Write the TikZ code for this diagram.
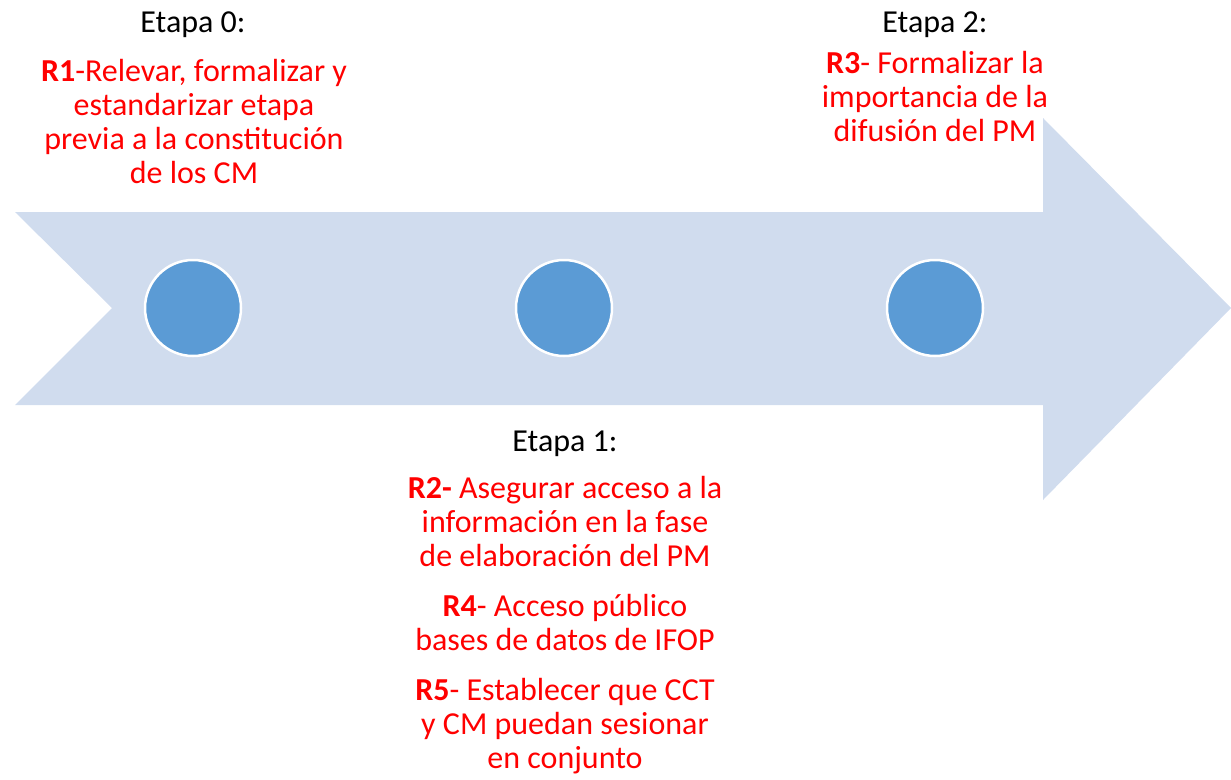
\documentclass[tikz,border=0pt]{standalone}
\usepackage{fontspec}
\setmainfont{Carlito}
\usepackage{tikz}
\usetikzlibrary{positioning}

\definecolor{arrowfill}{RGB}{208,220,238}
\definecolor{dotfill}{RGB}{91,155,213}
\definecolor{recred}{RGB}{255,0,0}

\tikzset{
  etapa/.style={anchor=base, inner sep=0pt, font=\fontsize{32}{34}\selectfont},
  recom/.style={anchor=north, inner sep=0pt, align=center, text=recred,
    font=\fontsize{32}{34}\selectfont},
  hito/.style={circle, fill=dotfill, draw=white, line width=2.5pt,
    minimum size=96pt, inner sep=0pt}
}

\begin{document}
\begin{tikzpicture}[x=1pt, y=-1pt]
    \useasboundingbox (0,0) rectangle (1231,779);

    % flecha
    
    \fill[arrowfill] (15,212) -- (1043,212) -- (1043,118) -- (1231,308)
        -- (1043,500) -- (1043,405) -- (15,405) -- (112,308) -- cycle;
    \node[hito] (h0) at (193,308) {};
    \node[hito] (h1) at (564,308) {};
    \node[hito] (h2) at (935,308) {};

    % etapa 0
    
    \node[etapa] (e0) at (193,32) {Etapa 0:};
    \node[recom] (r1) at (194,59) {\textbf{R1}-Relevar, formalizar y\\
        estandarizar etapa\\ previa a la constitución\\ de los CM};

    % etapa 1
    
    \node[etapa] (e1) at (565,451) {Etapa 1:};
    \node[recom] (r2) at (565,476) {\textbf{R2-} Asegurar acceso a la\\
        información en la fase\\ de elaboración del PM\\[16pt]
        \textbf{R4}- Acceso público\\ bases de datos de IFOP\\[16pt]
        \textbf{R5}- Establecer que CCT\\ y CM puedan sesionar\\ en conjunto};

    % etapa 2
    
    \node[etapa] (e2) at (935,32) {Etapa 2:};
    \node[recom] (r3) at (935,51) {\textbf{R3}- Formalizar la\\
        importancia de la\\ difusión del PM};

\end{tikzpicture}
\end{document}
